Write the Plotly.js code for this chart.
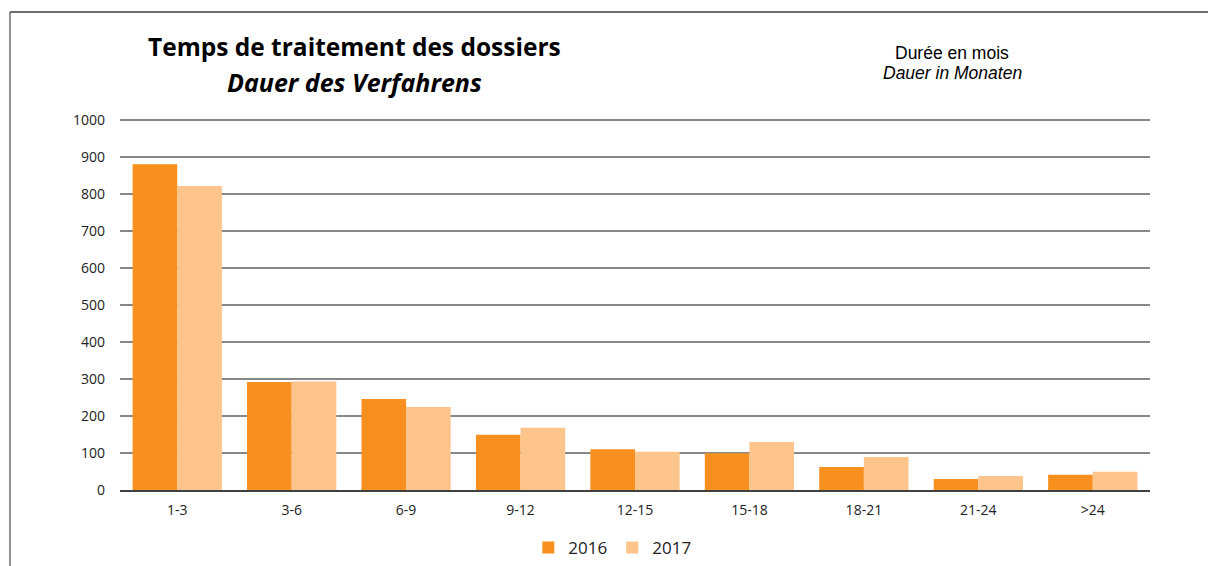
<!DOCTYPE html>
<html>
<head>
<meta charset="utf-8">
<script src="https://cdn.plot.ly/plotly-3.0.1.min.js"></script>
<style>html,body{margin:0;padding:0;background:#fff;}#chart{width:1208px;height:566px;}</style>
</head>
<body>
<div id="chart"></div>
<script>
var categories = ["1-3", "3-6", "6-9", "9-12", "12-15", "15-18", "18-21", "21-24", ">24"];
var values2016 = [880, 292, 246, 149, 110, 99, 62, 30, 41];
var values2017 = [821, 293, 224, 168, 103, 130, 89, 38, 49];
var seriesNames = ["2016", "2017"];
var yTicks = [0, 100, 200, 300, 400, 500, 600, 700, 800, 900, 1000];

var font = "'Open Sans', Lato, sans-serif";
var traces = [
  {type: "bar", name: seriesNames[0], x: categories, y: values2016,
   marker: {color: "#F7901E"}, hoverinfo: "x+y"},
  {type: "bar", name: seriesNames[1], x: categories, y: values2017,
   marker: {color: "#FDC48B"}, hoverinfo: "x+y"}
];

var layout = {
  width: 1208, height: 566,
  margin: {l: 120, r: 58, t: 118, b: 76, autoexpand: false},
  paper_bgcolor: "#ffffff", plot_bgcolor: "#ffffff",
  barmode: "group", bargap: 0.22, bargroupgap: 0,
  font: {family: font, size: 14, color: "#222"},
  showlegend: true,
  legend: {orientation: "h", x: 0.478, xanchor: "center", y: -0.156, yanchor: "middle",
           font: {size: 17, color: "#222"}, itemwidth: 30, traceorder: "normal"},
  xaxis: {type: "category", showgrid: false, showline: true, linecolor: "#404040", linewidth: 1.5,
          ticks: "", tickfont: {size: 14}, ticklabelstandoff: 7, fixedrange: true},
  yaxis: {range: [0, 1005], tickvals: yTicks,
          showgrid: true, gridcolor: "#888888", gridwidth: 1.5,
          zeroline: false, showline: false, ticks: "", tickfont: {size: 14}, ticklabelstandoff: 14, fixedrange: true},
  annotations: [
    {xref: "paper", yref: "paper", x: 0.228, y: 1.1935, xanchor: "center", yanchor: "middle", showarrow: false,
     text: "<b>Temps de traitement des dossiers</b>", font: {family: font, size: 24.5, color: "#000"}},
    {xref: "paper", yref: "paper", x: 0.228, y: 1.0968, xanchor: "center", yanchor: "middle", showarrow: false,
     text: "<b><i>Dauer des Verfahrens</i></b>", font: {family: font, size: 25, color: "#000"}},
    {xref: "paper", yref: "paper", x: 0.808, y: 1.1747, xanchor: "center", yanchor: "middle", showarrow: false,
     text: "Durée en mois", font: {family: "'Liberation Sans', Arial, sans-serif", size: 17.5, color: "#000"}},
    {xref: "paper", yref: "paper", x: 0.808, y: 1.121, xanchor: "center", yanchor: "middle", showarrow: false,
     text: "<i>Dauer in Monaten</i>", font: {family: "'Liberation Sans', Arial, sans-serif", size: 17.5, color: "#000"}}
  ],
  shapes: [
    {type: "line", xref: "paper", yref: "paper", x0: -0.1068, x1: 1.06, y0: 1.285, y1: 1.285,
     line: {color: "#6d6d6d", width: 2}},
    {type: "line", xref: "paper", yref: "paper", x0: -0.1068, x1: -0.1068, y0: 1.285, y1: -0.21,
     line: {color: "#6d6d6d", width: 1.5}}
  ]
};

Plotly.newPlot("chart", traces, layout, {displayModeBar: false, staticPlot: true});
</script>
</body>
</html>
